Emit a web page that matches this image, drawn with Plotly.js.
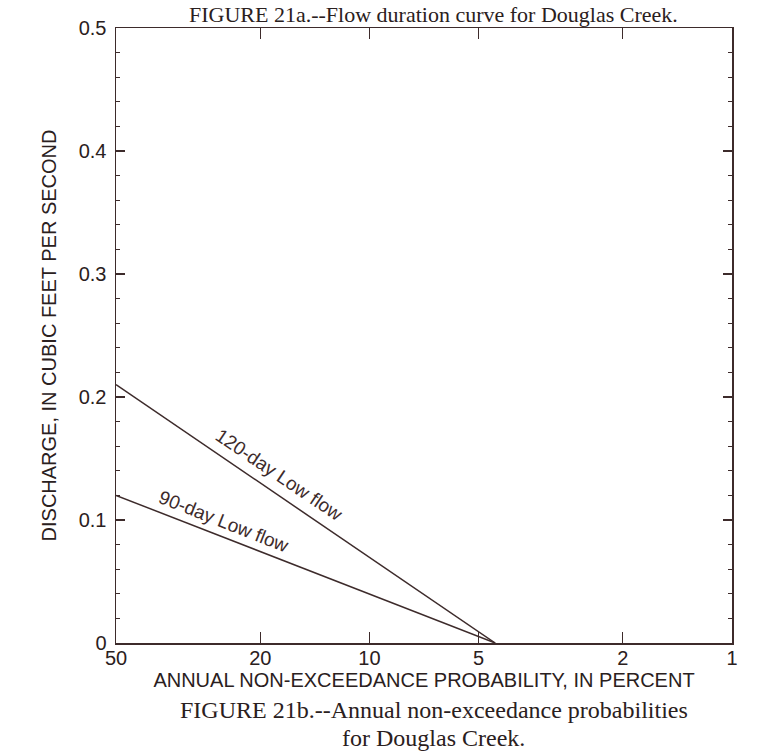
<!DOCTYPE html>
<html>
<head>
<meta charset="utf-8">
<script src="https://cdn.plot.ly/plotly-3.0.1.min.js"></script>
<style>
  html, body { margin: 0; padding: 0; background: #ffffff; }
  #chart { width: 769px; height: 754px; }
</style>
</head>
<body>
<div id="chart"></div>
<script>
// ---- data ----
const probabilityPercent = [50, 4.5];          // annual non-exceedance probability, %
const lowFlow120 = [0.21, 0];                  // 120-day low flow, cfs
const lowFlow90 = [0.12, 0];                   // 90-day low flow, cfs
const seriesNames = ['120-day Low flow', '90-day Low flow'];
const xTickValues = [50, 20, 10, 5, 2, 1];
const xTickLabels = ['50', '20', '10', '5', '2', '1'];
const yTickValues = [0, 0.1, 0.2, 0.3, 0.4, 0.5];
const labelAtPercent = [17.8, 25.2];           // where each curve label sits along its line

const ink = '#3d2b2b';
const sans = 'Liberation Sans, Arial, Helvetica, sans-serif';
const serif = 'Liberation Serif, Times New Roman, serif';

// straight line on a log x axis: interpolate in log space
function onLine(p, xs, ys) {
  const t = (Math.log10(xs[0]) - Math.log10(p)) / (Math.log10(xs[0]) - Math.log10(xs[1]));
  return ys[0] + t * (ys[1] - ys[0]);
}

const traces = [
  { x: probabilityPercent, y: lowFlow120, name: seriesNames[0], mode: 'lines',
    line: { color: ink, width: 1.5 }, hoverinfo: 'x+y+name' },
  { x: probabilityPercent, y: lowFlow90, name: seriesNames[1], mode: 'lines',
    line: { color: ink, width: 1.5 }, hoverinfo: 'x+y+name' }
];

const annotations = [
  { x: Math.log10(labelAtPercent[0]), y: onLine(labelAtPercent[0], probabilityPercent, lowFlow120),
    xref: 'x', yref: 'y', text: seriesNames[0], showarrow: false, textangle: 34,
    yshift: 21, font: { family: sans, size: 19, color: ink } },
  { x: Math.log10(labelAtPercent[1]), y: onLine(labelAtPercent[1], probabilityPercent, lowFlow90),
    xref: 'x', yref: 'y', text: seriesNames[1], showarrow: false, textangle: 21.5,
    yshift: 16, font: { family: sans, size: 19, color: ink } },
  { x: 0.516, y: 1.0455, xref: 'paper', yref: 'paper', yanchor: 'top', showarrow: false,
    text: 'FIGURE 21a.--Flow duration curve for Douglas Creek.',
    font: { family: serif, size: 22, color: '#2a2020' } },
  { x: 0.516, y: -0.109, xref: 'paper', yref: 'paper', yanchor: 'middle', showarrow: false,
    text: 'FIGURE 21b.--Annual non-exceedance probabilities',
    font: { family: serif, size: 24, color: '#2a2020' } },
  { x: 0.516, y: -0.155, xref: 'paper', yref: 'paper', yanchor: 'middle', showarrow: false,
    text: 'for Douglas Creek.',
    font: { family: serif, size: 24, color: '#2a2020' } }
];

const layout = {
  width: 769, height: 754,
  margin: { l: 116, r: 37, t: 28, b: 111 },
  paper_bgcolor: '#ffffff', plot_bgcolor: '#ffffff',
  showlegend: false,
  font: { family: sans, size: 20, color: '#2a2020' },
  xaxis: {
    type: 'log',
    range: [Math.log10(50), Math.log10(1)],
    tickvals: xTickValues, ticktext: xTickLabels,
    ticks: 'inside', ticklen: 11, tickwidth: 1.3, tickcolor: ink,
    showline: true, linecolor: ink, linewidth: 1.5, mirror: 'ticks',
    showgrid: false, zeroline: false,
    ticklabelstandoff: -4,
    tickfont: { family: sans, size: 20, color: '#2a2020' },
    title: { text: 'ANNUAL NON-EXCEEDANCE PROBABILITY, IN PERCENT',
             font: { family: sans, size: 20, color: '#2a2020' }, standoff: 2 }
  },
  yaxis: {
    range: [0, 0.5],
    tickvals: yTickValues,
    ticks: 'inside', ticklen: 9, tickwidth: 1.3, tickcolor: ink,
    minor: { dtick: 0.02, ticks: 'inside', ticklen: 4, tickwidth: 1.2, tickcolor: ink, showgrid: false },
    showline: true, linecolor: ink, linewidth: 1.5, mirror: 'ticks',
    showgrid: false, zeroline: false,
    ticklabelstandoff: 4,
    tickfont: { family: sans, size: 20, color: '#2a2020' },
    title: { text: 'DISCHARGE, IN CUBIC FEET PER SECOND',
             font: { family: sans, size: 20, color: '#2a2020' }, standoff: 16 }
  },
  annotations: annotations
};

Plotly.newPlot('chart', traces, layout, { displayModeBar: false, staticPlot: true });
</script>
</body>
</html>
